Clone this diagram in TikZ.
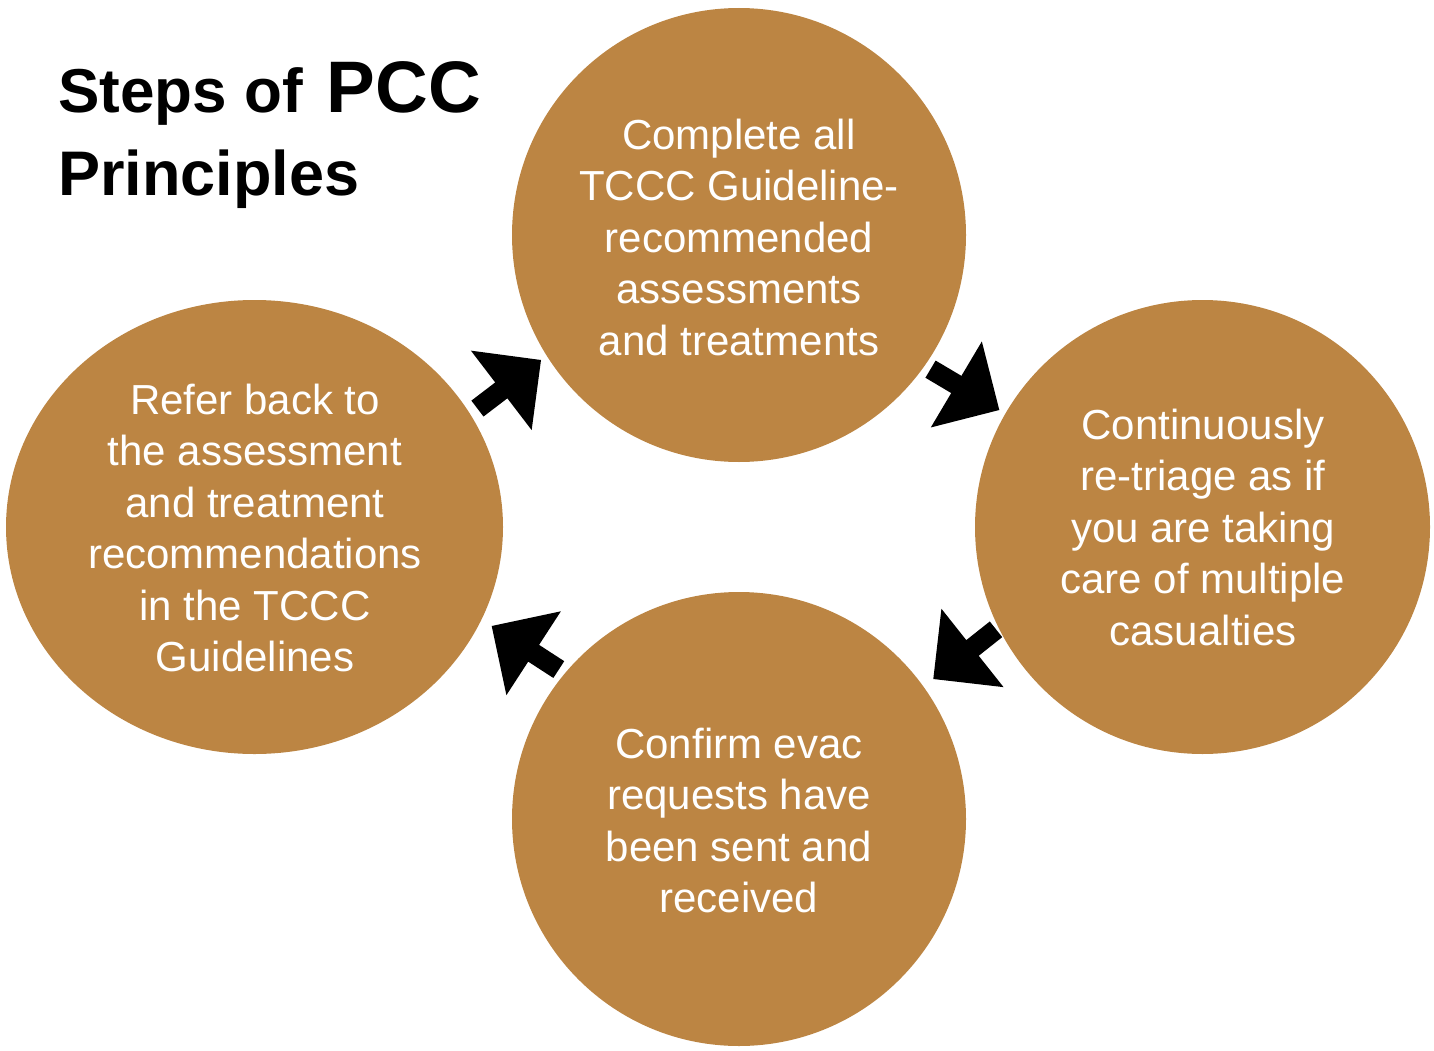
\documentclass[tikz,border=0pt]{standalone}
\usepackage{fontspec}
\setmainfont{Liberation Sans}
\usetikzlibrary{shapes.geometric}
\definecolor{stepbrown}{RGB}{188,133,67}
\tikzset{
  stepcircle/.style={ellipse, fill=stepbrown, draw=none, inner sep=0pt},
  steptext/.style={anchor=north, inner sep=0pt, align=center, text=white,
    font=\fontsize{42}{51.5}\selectfont},
  titletext/.style={anchor=base west, inner sep=0pt, font=\bfseries\fontsize{62}{84}\selectfont},
}
\newcommand\myblockarrow[2]{%
  \fill[black, shift={#1}, rotate=#2] (0,0) -- (-50,50) -- (-50,10) -- (-80,10)
    -- (-80,-10) -- (-50,-10) -- (-50,-50) -- cycle;}
\begin{document}
\begin{tikzpicture}[x=1pt,y=-1pt]
\useasboundingbox (0,0) rectangle (1434,1051);
% circles
\node[stepcircle, minimum width=454, minimum height=454] (top) at (739,235) {};
\node[stepcircle, minimum width=455, minimum height=454] (right) at (1202.5,527) {};
\node[stepcircle, minimum width=454, minimum height=454] (bottom) at (739,819) {};
\node[stepcircle, minimum width=497, minimum height=454] (left) at (254.5,527) {};
% texts
\node[steptext] (ttop) at (739,113) {\strut Complete all\\TCCC Guideline-\\recommended\\assessments\\and treatments};
\node[steptext] (tright) at (1203,403) {\strut Continuously\\re-triage as if\\you are taking\\care of multiple\\casualties};
\node[steptext] (tbottom) at (739,722) {\strut Confirm evac\\requests have\\been sent and\\received};
\node[steptext] (tleft) at (255,378) {\strut Refer back to\\the assessment\\and treatment\\recommendations\\in the TCCC\\Guidelines};
% title
\node[titletext] (title1) at (58,113) {Steps of\hspace{24pt}{\fontsize{73}{84}\selectfont PCC}};
\node[titletext, font=\bfseries\fontsize{63}{84}\selectfont] (title2) at (58,196) {Principles};
% arrows
\myblockarrow{(541,360)}{37.4}
\myblockarrow{(999.3,410)}{-30.7}
\myblockarrow{(933.3,679)}{218.4}
\myblockarrow{(491.7,626)}{147}
\end{tikzpicture}
\end{document}
